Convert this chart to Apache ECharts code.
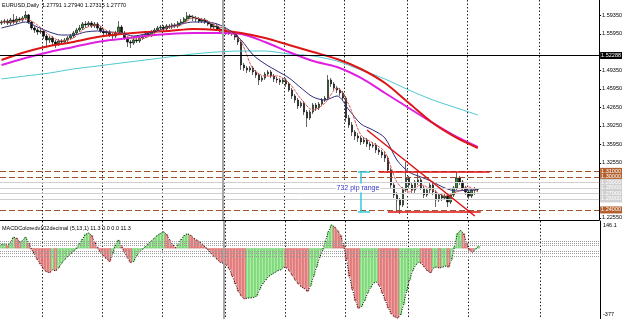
<!DOCTYPE html>
<html><head><meta charset="utf-8">
<script src="https://cdn.jsdelivr.net/npm/echarts@6/dist/echarts.min.js"></script>
<style>html,body{margin:0;padding:0;background:#fff}#c{width:625px;height:319px}</style>
</head><body><div id="c"></div><script>
const SLOTS = 200;
const openP = [1.5790,1.5808,1.5826,1.5790,1.5844,1.5808,1.5863,1.5844,1.5881,1.5935,1.5808,1.5699,1.5663,1.5627,1.5645,1.5554,1.5482,1.5518,1.5446,1.5409,
1.5464,1.5446,1.5482,1.5518,1.5554,1.5609,1.5663,1.5699,1.5772,1.5754,1.5790,1.5736,1.5772,1.5699,1.5645,1.5609,1.5627,1.5572,1.5554,1.5609,
1.5717,1.5609,1.5518,1.5446,1.5427,1.5482,1.5464,1.5518,1.5554,1.5591,1.5572,1.5627,1.5663,1.5699,1.5717,1.5681,1.5736,1.5717,1.5754,1.5736,
1.5790,1.5808,1.5863,1.5917,1.5899,1.5881,1.5863,1.5826,1.5844,1.5808,1.5772,1.5717,1.5736,1.5681,1.5645,1.5663,1.5627,1.5609,1.5591,1.5536,
1.5446,1.5029,1.4974,1.4938,1.4974,1.4902,1.4847,1.4757,1.4793,1.4865,1.4902,1.4829,1.4775,1.4757,1.4720,1.4757,1.4684,1.4575,1.4467,1.4394,
1.4285,1.4340,1.4176,1.4068,1.4176,1.4303,1.4249,1.4321,1.4394,1.4430,1.4757,1.4684,1.4612,1.4575,1.4521,1.4430,1.4068,1.3941,1.3814,1.3741,
1.3705,1.3633,1.3669,1.3596,1.3560,1.3578,1.3488,1.3451,1.3397,1.3342,1.3125,1.2853,1.2672,1.2581,1.2490,1.2762,1.2980,1.2853,1.2762,1.2907,
1.2944,1.2799,1.2672,1.2762,1.2853,1.2726,1.2581,1.2672,1.2617,1.2653,1.2545,1.2672,1.2799,1.2980,1.2907,1.2799,1.2726,1.2653,1.2762,1.27791];
const closeP = [1.5808,1.5826,1.5790,1.5844,1.5808,1.5863,1.5844,1.5881,1.5935,1.5808,1.5699,1.5663,1.5627,1.5645,1.5554,1.5482,1.5518,1.5446,1.5409,1.5464,
1.5446,1.5482,1.5518,1.5554,1.5609,1.5663,1.5699,1.5772,1.5754,1.5790,1.5736,1.5772,1.5699,1.5645,1.5609,1.5627,1.5572,1.5554,1.5609,1.5717,
1.5609,1.5518,1.5446,1.5427,1.5482,1.5464,1.5518,1.5554,1.5591,1.5572,1.5627,1.5663,1.5699,1.5717,1.5681,1.5736,1.5717,1.5754,1.5736,1.5790,
1.5808,1.5863,1.5917,1.5899,1.5881,1.5863,1.5826,1.5844,1.5808,1.5772,1.5717,1.5736,1.5681,1.5645,1.5663,1.5627,1.5609,1.5591,1.5536,1.5446,
1.5029,1.4974,1.4938,1.4974,1.4902,1.4847,1.4757,1.4793,1.4865,1.4902,1.4829,1.4775,1.4757,1.4720,1.4757,1.4684,1.4575,1.4467,1.4394,1.4285,
1.4340,1.4176,1.4068,1.4176,1.4303,1.4249,1.4321,1.4394,1.4430,1.4757,1.4684,1.4612,1.4575,1.4521,1.4430,1.4068,1.3941,1.3814,1.3741,1.3705,
1.3633,1.3669,1.3596,1.3560,1.3578,1.3488,1.3451,1.3397,1.3342,1.3125,1.2853,1.2672,1.2581,1.2490,1.2762,1.2980,1.2853,1.2762,1.2907,1.2944,
1.2799,1.2672,1.2762,1.2853,1.2726,1.2581,1.2672,1.2617,1.2653,1.2545,1.2672,1.2799,1.2980,1.2907,1.2799,1.2726,1.2653,1.2762,1.2790,1.27770];
const highP = [1.5844,1.5863,1.5863,1.5881,1.5953,1.5917,1.5899,1.5917,1.6008,1.5953,1.5826,1.5736,1.5699,1.5681,1.5663,1.5591,1.5554,1.5554,1.5482,1.5500,
1.5500,1.5518,1.5554,1.5591,1.5645,1.5699,1.5754,1.5808,1.5826,1.5826,1.5826,1.5808,1.5808,1.5736,1.5681,1.5663,1.5663,1.5609,1.5645,1.5826,
1.5754,1.5645,1.5554,1.5482,1.5518,1.5518,1.5554,1.5591,1.5627,1.5627,1.5663,1.5699,1.5736,1.5754,1.5754,1.5772,1.5772,1.5790,1.5790,1.5826,
1.5863,1.5899,1.5989,1.5953,1.5935,1.5917,1.5899,1.5881,1.5881,1.5844,1.5808,1.5772,1.5772,1.5717,1.5717,1.5699,1.5663,1.5645,1.5627,1.5572,
1.5482,1.5065,1.5010,1.5010,1.5010,1.4938,1.4883,1.4829,1.4902,1.4938,1.4938,1.4865,1.4811,1.4793,1.4793,1.4793,1.4720,1.4612,1.4503,1.4430,
1.4376,1.4376,1.4213,1.4213,1.4340,1.4340,1.4358,1.4430,1.4467,1.4847,1.4793,1.4720,1.4648,1.4612,1.4557,1.4467,1.4122,1.3995,1.3850,1.3796,
1.3741,1.3723,1.3705,1.3633,1.3633,1.3614,1.3524,1.3488,1.3451,1.3379,1.3161,1.2907,1.2726,1.2617,1.2817,1.3270,1.3016,1.2907,1.2944,1.3089,
1.2980,1.2835,1.2799,1.2889,1.2889,1.2762,1.2708,1.2708,1.2690,1.2690,1.2708,1.2835,1.3089,1.3016,1.2944,1.2835,1.2762,1.2799,1.2817,1.27940];
const lowP = [1.5754,1.5772,1.5754,1.5754,1.5772,1.5772,1.5808,1.5808,1.5844,1.5772,1.5663,1.5609,1.5572,1.5591,1.5500,1.5373,1.5427,1.5391,1.5337,1.5373,
1.5391,1.5409,1.5446,1.5482,1.5518,1.5572,1.5627,1.5663,1.5699,1.5717,1.5699,1.5699,1.5663,1.5609,1.5554,1.5572,1.5536,1.5500,1.5518,1.5572,
1.5572,1.5482,1.5355,1.5337,1.5391,1.5427,1.5427,1.5482,1.5518,1.5536,1.5536,1.5591,1.5627,1.5663,1.5645,1.5645,1.5681,1.5681,1.5699,1.5699,
1.5754,1.5772,1.5826,1.5863,1.5826,1.5808,1.5790,1.5790,1.5772,1.5736,1.5681,1.5681,1.5645,1.5609,1.5609,1.5572,1.5572,1.5554,1.5482,1.5391,
1.4938,1.4920,1.4883,1.4902,1.4847,1.4793,1.4666,1.4720,1.4757,1.4829,1.4793,1.4720,1.4702,1.4666,1.4684,1.4630,1.4539,1.4412,1.4340,1.4231,
1.4249,1.4122,1.3904,1.4031,1.4140,1.4195,1.4213,1.4285,1.4358,1.4394,1.4630,1.4575,1.4521,1.4467,1.4394,1.3995,1.3886,1.3741,1.3669,1.3633,
1.3578,1.3596,1.3542,1.3488,1.3524,1.3433,1.3397,1.3342,1.3270,1.3070,1.2799,1.2617,1.2363,1.2327,1.2454,1.2726,1.2799,1.2708,1.2708,1.2853,
1.2762,1.2617,1.2635,1.2708,1.2672,1.2454,1.2545,1.2563,1.2581,1.2454,1.2508,1.2635,1.2762,1.2853,1.2744,1.2672,1.2581,1.2617,1.2672,1.27315];

const maIdxLong = [0,8,16,24,32,40,48,56,64,72,80,88,96,104,112,120,128,136,144,152,159];
const maThickRed = [1.5119,1.5264,1.5373,1.5446,1.5536,1.5591,1.5627,1.5645,1.5681,1.5663,1.5609,1.5518,1.5391,1.5264,1.5137,1.4956,1.4702,1.4340,1.3977,1.3705,1.3524];
const maMagenta = [1.5029,1.5155,1.5264,1.5355,1.5446,1.5500,1.5554,1.5591,1.5609,1.5609,1.5591,1.5446,1.5264,1.5101,1.4992,1.4793,1.4521,1.4249,1.3977,1.3723,1.3542];
const maCyan = [1.4775,1.4829,1.4883,1.4956,1.5010,1.5065,1.5119,1.5174,1.5228,1.5264,1.5282,1.5282,1.5228,1.5192,1.5101,1.4938,1.4775,1.4575,1.4394,1.4249,1.4122];
const maIdxShort = [0,4,8,12,16,20,24,28,32,36,40,44,48,52,56,60,64,68,72,76,80,84,88,92,96,100,104,108,112,116,120,124,128,132,136,140,144,148,152,156,159];
const maNavy = [1.5699,1.5754,1.5808,1.5717,1.5627,1.5572,1.5572,1.5627,1.5645,1.5627,1.5609,1.5554,1.5591,1.5645,1.5717,1.5772,1.5808,1.5808,1.5772,1.5663,
1.5482,1.5210,1.5047,1.4920,1.4793,1.4612,1.4448,1.4394,1.4467,1.4213,1.3959,1.3850,1.3705,1.3306,1.3089,1.2998,1.2907,1.2799,1.2744,1.2762,1.2762];
const maFast = [1.5808,1.5808,1.5863,1.5754,1.5572,1.5464,1.5518,1.5699,1.5754,1.5627,1.5609,1.5500,1.5518,1.5627,1.5717,1.5754,1.5881,1.5844,1.5736,1.5645,
1.5446,1.4956,1.4829,1.4829,1.4702,1.4412,1.4213,1.4340,1.4612,1.4303,1.3759,1.3614,1.3451,1.2907,1.2726,1.2853,1.2762,1.2653,1.2726,1.2817,1.2726];

const macd = [20,25,15,30,60,55,35,40,60,30, -5,-30,-60,-85,-110,-125,-130,-115,-120,-105,
-80,-60,-45,-30,-15,0,25,50,75,82, 70,35,5,-20,-40,-55,-70,-30,20,45,
10,-20,-50,-75,-70,-40,-20,-5,10,25, 40,55,70,80,88,75,45,20,5,25,
50,70,78,70,55,45,35,20,5,-10, -30,-45,-60,-75,-80,-90,-110,-150,-190,-230,
-255,-270,-265,-265,-262,-255,-220,-190,-170,-150, -140,-130,-120,-115,-100,-105,-120,-145,-170,-190,
-205,-215,-230,-200,-150,-100,-50,-10,40,90, 125,115,95,70,20,-60,-150,-220,-280,-320,
-310,-280,-240,-210,-185,-180,-200,-240,-280,-320, -350,-365,-372,-355,-300,-230,-170,-120,-90,-75,
-80,-100,-120,-130,-105,-100,-105,-100,-95,-100, -60,10,80,95,80,30,-10,-20,-5,11.3];

const priceTicks = [1.5935,1.5595,1.4935,1.4595,1.4265,1.3925,1.3595,1.3255,1.2255];
const macdMax = 146.1, macdMin = -377;
const macdLabelAt = [122, -355];
const macdLevels = [40,27,15,-15,-27,-40];
const separatorIdx = [14,34,54,75,95,115,136,156,180];
const greyLineIdx = 74;
const brownLevels = [1.31,1.30,1.24];
const greyLevels = [1.29,1.28,1.27,1.26];
const blackLevel = 1.52288;
const rangeTop = 1.3089, rangeBottom = 1.2363;
const trendStart = [122,1.3850], trendEnd = [158,1.2291];
const topLine = [126,163], bottomLine = [129,160];
const beamIdx = 120, beamCap = [118.5,122.5];
const rangeText = '732 pip range', rangeTextPos = [119,1.2799];

const cats = Array.from({length: SLOTS}, (_, i) => String(i));
function sparse(idx, vals){ const a = new Array(openP.length).fill(null); idx.forEach((k,j)=>{a[k]=vals[j];}); return a; }
const FONT = 'Liberation Sans';
const chart = echarts.init(document.getElementById('c'), null, {renderer:'canvas'});

const lbl = (txt, bg) => ({show:true, position:'end', formatter: txt, backgroundColor:bg, color:'#fff', fontSize:5.5, fontFamily:FONT, padding:[1,1,0,1], distance:1});
const levelLines = [];
levelLines.push({yAxis: blackLevel, lineStyle:{color:'#000', type:'solid', width:1}, label: lbl(blackLevel.toFixed(5), '#000')});
brownLevels.forEach(v => levelLines.push({yAxis:v, lineStyle:{color:'#a0522d', type:[6,3], width:1}, label: lbl(v.toFixed(5), '#b3602e')}));
greyLevels.forEach(v => levelLines.push({yAxis:v, lineStyle:{color:'#cfcfcf', type:'solid', width:1}, label: lbl(v.toFixed(5), '#d0d0d0')}));
const redStyle = {color:'#dd1010', width:1.5, type:'solid'};
const cyanStyle = {color:'#33c8dc', width:1.5, type:'solid'};
const segs = [
  [{coord:trendStart, lineStyle:redStyle}, {coord:trendEnd}],
  [{coord:[topLine[0],rangeTop], lineStyle:redStyle}, {coord:[topLine[1],rangeTop]}],
  [{coord:[bottomLine[0],rangeBottom], lineStyle:redStyle}, {coord:[bottomLine[1],rangeBottom]}],
  [{coord:[beamIdx,rangeTop], lineStyle:cyanStyle}, {coord:[beamIdx,rangeBottom]}],
  [{coord:[beamCap[0],rangeTop], lineStyle:cyanStyle}, {coord:[beamCap[1],rangeTop]}],
  [{coord:[beamCap[0],rangeBottom], lineStyle:cyanStyle}, {coord:[beamCap[1],rangeBottom]}],
  {xAxis: greyLineIdx, lineStyle:{color:'#a8a8a8', width:2, type:'solid'}, label:{show:false}}
];

const sepLine = {show:true, interval:(i)=>separatorIdx.includes(i), lineStyle:{color:'#222', type:[1.5,2], width:1}};

const option = {
  animation:false,
  backgroundColor:'#fff',
  textStyle:{fontFamily:FONT},
  title:[
    {text:'EURUSD,Daily  ' + [openP, highP, lowP, closeP].map(a=>a[a.length-1].toFixed(5)).join(' '), left:2, top:2, padding:0,
     textStyle:{fontSize:5.5, fontWeight:'normal', color:'#000', fontFamily:FONT}},
    {text:'MACDColoredv102decimal (5,13,1) 11.3 0.0 0.0 11.3', left:2, top:225, padding:0,
     textStyle:{fontSize:5.5, fontWeight:'normal', color:'#000', fontFamily:FONT}}
  ],
  grid:[
    {left:0, right:25, top:0, height:220},
    {left:0, right:25, top:221, height:98}
  ],
  xAxis:[
    {type:'category', gridIndex:0, data:cats, boundaryGap:true,
     axisLine:{show:true, onZero:false, lineStyle:{color:'#000', width:1}}, axisTick:{show:false}, axisLabel:{show:false}, splitLine:sepLine},
    {type:'category', gridIndex:1, data:cats, boundaryGap:true,
     axisLine:{show:false}, axisTick:{show:false}, axisLabel:{show:false}, splitLine:sepLine}
  ],
  yAxis:[
    {type:'value', gridIndex:0, position:'right', min:1.2218, max:1.6207, scale:true,
     axisLine:{show:true, lineStyle:{color:'#000'}}, splitLine:{show:false},
     axisTick:{show:true, length:2, customValues:priceTicks, lineStyle:{color:'#000'}},
     axisLabel:{show:true, customValues:priceTicks, formatter:v=>v.toFixed(5), fontSize:5.5, color:'#000', margin:3, fontFamily:FONT}},
    {type:'value', gridIndex:1, position:'right', min:macdMin, max:macdMax,
     axisLine:{show:true, lineStyle:{color:'#000'}}, splitLine:{show:false},
     axisTick:{show:false},
     axisLabel:{show:true, customValues:macdLabelAt, formatter:v=>String(v > 0 ? macdMax : macdMin), fontSize:5.5, color:'#000', margin:3, fontFamily:FONT}}
  ],
  series:[
    {type:'candlestick', xAxisIndex:0, yAxisIndex:0, barWidth:2.2,
     data: openP.map((o,i)=>[o, closeP[i], lowP[i], highP[i]]),
     itemStyle:{color:'#2e9a2e', color0:'#111', borderColor:'#000', borderColor0:'#000', borderWidth:0.6},
     markLine:{silent:true, symbol:'none', animation:false, label:{show:false}, data: levelLines.concat(segs)},
     markPoint:{silent:true, symbol:'rect', symbolSize:1, itemStyle:{color:'rgba(0,0,0,0)'},
       data:[{coord:rangeTextPos, label:{show:true, position:'inside', formatter:rangeText, color:'#3535c8', fontSize:7, fontFamily:FONT, backgroundColor:'#fff', padding:[1,1]}}]}
    },
    {type:'line', name:'MA200', xAxisIndex:0, yAxisIndex:0, data:sparse(maIdxLong, maCyan), connectNulls:true, showSymbol:false, smooth:0.3,
     lineStyle:{color:'#4cc9d0', width:1}},
    {type:'line', name:'MA100', xAxisIndex:0, yAxisIndex:0, data:sparse(maIdxLong, maMagenta), connectNulls:true, showSymbol:false, smooth:0.3,
     lineStyle:{color:'#e020e0', width:2}},
    {type:'line', name:'MA50', xAxisIndex:0, yAxisIndex:0, data:sparse(maIdxLong, maThickRed), connectNulls:true, showSymbol:false, smooth:0.3,
     lineStyle:{color:'#dd1515', width:2}},
    {type:'line', name:'MA20', xAxisIndex:0, yAxisIndex:0, data:sparse(maIdxShort, maNavy), connectNulls:true, showSymbol:false, smooth:0.3,
     lineStyle:{color:'#2c2c7a', width:1}},
    {type:'line', name:'MA5', xAxisIndex:0, yAxisIndex:0, data:sparse(maIdxShort, maFast), connectNulls:true, showSymbol:false, smooth:0.3,
     lineStyle:{color:'#e05555', width:1, type:[3,1]}},
    {type:'bar', xAxisIndex:1, yAxisIndex:1, barCategoryGap:'0%',
     data: macd.map((v,i)=>({value:v, itemStyle:{color: (i===0 || v>=macd[i-1]) ? '#a8f0a0' : '#f0a0a0',
        borderColor: (i===0 || v>=macd[i-1]) ? '#50c050' : '#d04848', borderWidth:0.6}})),
     markLine:{silent:true, symbol:'none', label:{show:false},
       data: macdLevels.map(v=>({yAxis:v, lineStyle:{color:'#9a9a9a', type:[1,1], width:1}})).concat([
         {xAxis: greyLineIdx, lineStyle:{color:'#a8a8a8', width:2, type:'solid'}}])}
    },
    {type:'line', xAxisIndex:1, yAxisIndex:1, data:macd, showSymbol:false, lineStyle:{color:'#000', width:1, type:[1,1.5]}}
  ]
};
chart.setOption(option);
</script></body></html>
